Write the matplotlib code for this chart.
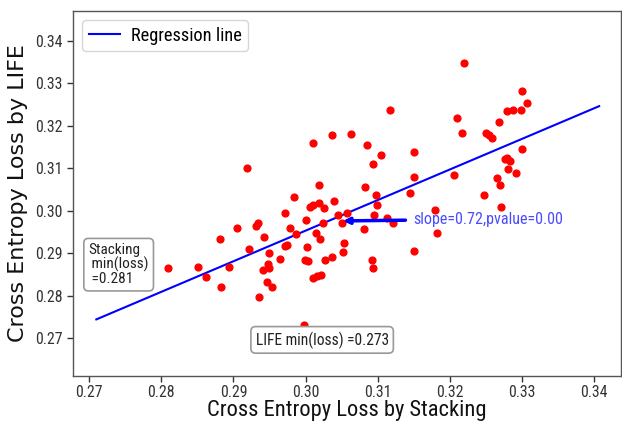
import matplotlib
matplotlib.use("Agg")
import matplotlib.pyplot as plt
from matplotlib import font_manager
import numpy as np

# Per-sample cross entropy loss of the two models
stacking_loss = [
    0.2810, 0.2851, 0.2862, 0.2883, 0.2881, 0.2894, 0.2905, 0.2921, 0.2931, 0.2934,
    0.2919, 0.2943, 0.2950, 0.2941, 0.2948, 0.2950, 0.2946, 0.2953, 0.2936, 0.2964,
    0.2971, 0.2974, 0.2972, 0.2979, 0.2984, 0.2987, 0.3001, 0.3002, 0.2999, 0.3003,
    0.3010, 0.3016, 0.3021, 0.3015, 0.3020, 0.3018, 0.3006, 0.3010, 0.3018, 0.3025,
    0.3039, 0.3045, 0.3057, 0.3051, 0.3024, 0.3027, 0.3037, 0.3054, 0.3052, 0.2998,
    0.3011, 0.3037, 0.3063, 0.3083, 0.3097, 0.3099, 0.3145, 0.3095, 0.3113, 0.3121,
    0.3081, 0.3092, 0.3093, 0.3151, 0.3151, 0.3179, 0.3182, 0.3085, 0.3105, 0.3093,
    0.3151, 0.3117, 0.3220, 0.3210, 0.3217, 0.3206, 0.3250, 0.3254, 0.3258, 0.3268,
    0.3248, 0.3266, 0.3270, 0.3271, 0.3277, 0.3284, 0.3280, 0.3292, 0.3300, 0.3279,
    0.3288, 0.3299, 0.3300, 0.3307, 0.3279,
]
life_loss = [
    0.2864, 0.2867, 0.2843, 0.2820, 0.2933, 0.2867, 0.2959, 0.2909, 0.2963, 0.2972,
    0.3101, 0.2937, 0.2900, 0.2860, 0.2874, 0.2864, 0.2833, 0.2820, 0.2798, 0.2887,
    0.2916, 0.2919, 0.2994, 0.2959, 0.3032, 0.2946, 0.2978, 0.2915, 0.2884, 0.2881,
    0.2842, 0.2846, 0.2849, 0.2947, 0.2934, 0.3061, 0.3008, 0.3013, 0.3019, 0.3006,
    0.3022, 0.2989, 0.2995, 0.2972, 0.2972, 0.2883, 0.2892, 0.2925, 0.2903, 0.2730,
    0.3159, 0.3177, 0.3181, 0.3055, 0.3036, 0.3013, 0.3041, 0.2990, 0.2982, 0.2972,
    0.2956, 0.2884, 0.2864, 0.2906, 0.3079, 0.3002, 0.2947, 0.3155, 0.3130, 0.3111,
    0.3139, 0.3237, 0.3348, 0.3218, 0.3184, 0.3083, 0.3184, 0.3178, 0.3170, 0.3209,
    0.3038, 0.3077, 0.3061, 0.3009, 0.3122, 0.3117, 0.3097, 0.3089, 0.3145, 0.3234,
    0.3236, 0.3236, 0.3281, 0.3253, 0.3125,
]

slope = 0.72
intercept = 0.0793
pvalue = 0.00
stacking_min = 0.281
life_min = 0.273

x_ticks = [0.27, 0.28, 0.29, 0.30, 0.31, 0.32, 0.33, 0.34]
y_ticks = [0.27, 0.28, 0.29, 0.30, 0.31, 0.32, 0.33, 0.34]

# Prefer a condensed sans face when one is available
available = {f.name for f in font_manager.fontManager.ttflist}
narrow = None
for cand in ["Roboto Condensed", "DejaVu Sans Condensed", "Liberation Sans Narrow"]:
    if cand in available:
        narrow = cand
        break
if narrow is None:
    narrow = "DejaVu Sans"
    k = 0.78
else:
    k = 1.0
plt.rcParams["font.family"] = [narrow, "DejaVu Sans"]

x = np.array(stacking_loss)
y = np.array(life_loss)

fig = plt.figure(figsize=(6.22, 4.23), dpi=100)
ax = fig.add_axes([0.1174, 0.1111, 0.8810, 0.8629])

ax.scatter(x, y, s=24, color="red", zorder=3)

line_x = np.array([x.min() - 0.01, x.max() + 0.01])
ax.plot(line_x, slope * line_x + intercept, color="blue", lw=1.5,
        label="Regression line", zorder=2)

ax.annotate(f"slope={slope:.2f},pvalue={pvalue:.2f}",
            xy=(0.3052, 0.2976), xytext=(0.3150, 0.2980),
            color="blue", alpha=0.7, fontsize=11.6 * k, va="center", ha="left",
            arrowprops=dict(arrowstyle="-|>", color="blue", lw=2.5,
                            mutation_scale=9, shrinkA=4, shrinkB=0),
            zorder=4)

box = dict(boxstyle="round,pad=0.3", fc="white", ec="#999999", lw=1.2)
ax.text(0.2699, 0.2873, f"Stacking\n min(loss)\n ={stacking_min:.3f}",
        fontsize=11.0 * k, ha="left", va="center", color="#222222", bbox=box,
        linespacing=1.0)
ax.text(0.3023, 0.2696, f"LIFE min(loss) ={life_min:.3f}",
        fontsize=11.2 * k, ha="center", va="center", color="#222222", bbox=box)

ax.set_xlim(0.26777, 0.34373)
ax.set_ylim(0.2611, 0.3470)
ax.set_xticks(x_ticks)
ax.set_yticks(y_ticks)
ax.set_xticklabels([f"{t:.2f}" for t in x_ticks])
ax.set_yticklabels([f"{t:.2f}" for t in y_ticks])
ax.tick_params(labelsize=11.4 * k, colors="#333333", length=4, width=1)
ax.tick_params(axis="x", pad=2.5)
for sp in ax.spines.values():
    sp.set_color("#555555")
    sp.set_linewidth(1.0)

ax.set_xlabel("Cross Entropy Loss by Stacking", fontsize=16.2 * k, color="#111111",
              labelpad=0)
ax.set_ylabel("Cross Entropy Loss by LIFE", fontsize=16.0, color="#111111",
              family="DejaVu Sans", labelpad=5)

leg = ax.legend(loc="upper left", fontsize=13.2 * k, frameon=True, fancybox=True,
                borderaxespad=0.5, handlelength=1.7, handletextpad=0.6,
                borderpad=0.35)
leg.get_frame().set_edgecolor("#cccccc")

fig.savefig("out.png", dpi=100)
